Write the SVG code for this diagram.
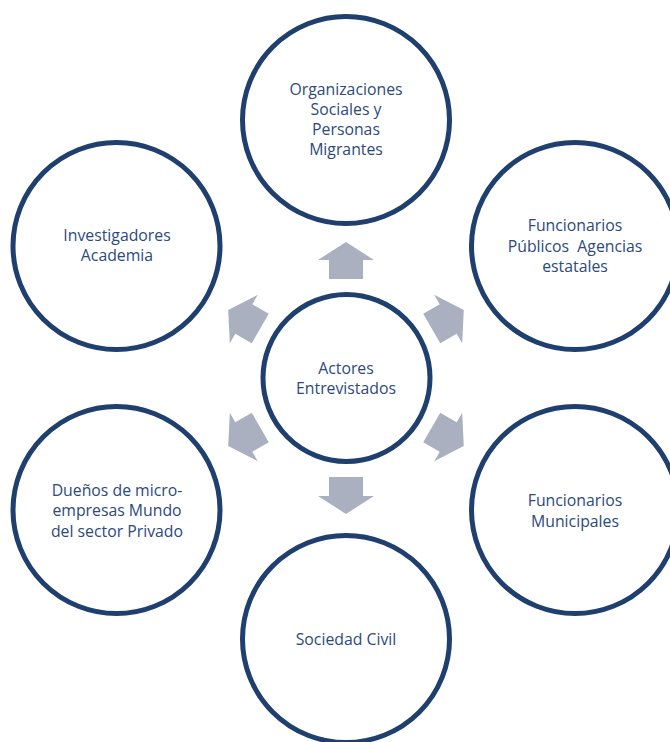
<svg xmlns="http://www.w3.org/2000/svg" width="670" height="742" viewBox="0 0 670 742">
<defs>
<style>
.ring{fill:#fff;stroke:#1f3f6e;stroke-width:5}
.lbl{font-family:"Open Sans","Noto Sans",sans-serif;font-size:15.8px;fill:#2c4a7c;text-anchor:middle}
.arr{fill:#aab0bf}
</style>
<polygon id="arrowUp" points="-17,-99 -17,-118 -28,-118 0,-136 28,-118 17,-118 17,-99"/>
</defs>
<rect width="670" height="742" fill="#fff"/>
<g id="connectors" class="arr">
<use href="#arrowUp" transform="translate(346,378)"/>
<use href="#arrowUp" transform="translate(346,378) rotate(60)"/>
<use href="#arrowUp" transform="translate(346,378) rotate(120)"/>
<use href="#arrowUp" transform="translate(346,378) rotate(180)"/>
<use href="#arrowUp" transform="translate(346,378) rotate(240)"/>
<use href="#arrowUp" transform="translate(346,378) rotate(300)"/>
</g>
<g id="center">
<circle class="ring" cx="346.5" cy="378" r="83.5"/>
<text class="lbl" x="346" y="374">Actores</text>
<text class="lbl" x="346" y="394">Entrevistados</text>
</g>
<g id="organizaciones">
<circle class="ring" cx="346" cy="120" r="103.5"/>
<text class="lbl" x="346" y="95">Organizaciones</text>
<text class="lbl" x="346" y="115">Sociales y</text>
<text class="lbl" x="346" y="135">Personas</text>
<text class="lbl" x="346" y="155">Migrantes</text>
</g>
<g id="investigadores">
<circle class="ring" cx="116.5" cy="246" r="103.5"/>
<text class="lbl" x="117" y="241">Investigadores</text>
<text class="lbl" x="117" y="261">Academia</text>
</g>
<g id="funcionarios-publicos">
<circle class="ring" cx="575" cy="246" r="103.5"/>
<text class="lbl" x="575" y="231">Funcionarios</text>
<text class="lbl" x="575" y="252" xml:space="preserve">Públicos  Agencias</text>
<text class="lbl" x="575" y="272">estatales</text>
</g>
<g id="duenos">
<circle class="ring" cx="116.5" cy="510" r="103.5"/>
<text class="lbl" x="117" y="496">Dueños de micro-</text>
<text class="lbl" x="117" y="516">empresas Mundo</text>
<text class="lbl" x="117" y="537">del sector Privado</text>
</g>
<g id="funcionarios-municipales">
<circle class="ring" cx="575" cy="510" r="103.5"/>
<text class="lbl" x="575" y="506">Funcionarios</text>
<text class="lbl" x="575" y="527">Municipales</text>
</g>
<g id="sociedad-civil">
<circle class="ring" cx="346" cy="639" r="103.5"/>
<text class="lbl" x="346" y="645">Sociedad Civil</text>
</g>
</svg>
